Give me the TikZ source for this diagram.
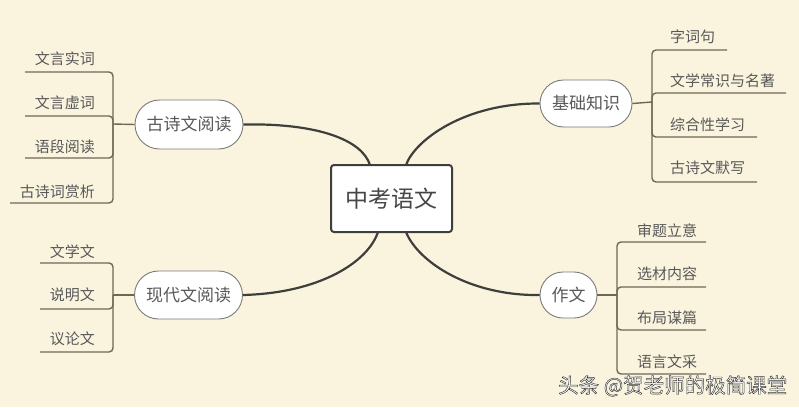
\documentclass[tikz,border=0pt]{standalone}
\usepackage{fontspec}
\setmainfont{Noto Sans CJK SC}
\usetikzlibrary{shapes.misc}
\definecolor{bg}{HTML}{FAF4DF}
\definecolor{mainline}{HTML}{3E3E3B}
\definecolor{subline}{HTML}{6E6755}
\definecolor{txt}{HTML}{585858}
\definecolor{pillborder}{HTML}{7A7A7A}
\newcommand{\outlinedtext}[1]{\special{pdf:literal 2 Tr 0.45 w 0.2 G}#1\special{pdf:literal 0 Tr}}
\tikzset{
  mainbox/.style={draw=mainline, line width=2pt, fill=white, rounded corners=3pt,
    minimum width=121pt, minimum height=67pt, inner sep=0pt, text=txt!80!black,
    font=\fontsize{23pt}{26pt}\selectfont},
  pill/.style={rounded rectangle, draw=pillborder, line width=0.9pt, fill=white,
    inner sep=0pt, text=txt, font=\fontsize{17pt}{20pt}\selectfont},
  leaf/.style={text=txt, inner sep=0pt, font=\fontsize{15pt}{18pt}\selectfont},
  mainconn/.style={draw=mainline, line width=2.2pt},
  subconn/.style={draw=subline, line width=1.4pt, rounded corners=4pt},
  wm/.style={inner sep=0pt, anchor=west, text=white, font=\fontsize{20.5pt}{22pt}\selectfont}
}
\begin{document}
\begin{tikzpicture}[x=1pt,y=-1pt]
\fill[bg] (0,0) rectangle (799,407);
\useasboundingbox (0,0) rectangle (799,407);

% central node
\node[mainbox] (A) at (391.5,198.5) {中考语文};

% branch nodes
\node[pill, minimum width=108pt, minimum height=49pt] (gu) at (189,124.5) {古诗文阅读};
\node[pill, minimum width=92pt, minimum height=47pt] (jc) at (586,103.5) {基础知识};
\node[pill, minimum width=108pt, minimum height=48pt] (xd) at (188.5,295) {现代文阅读};
\node[pill, minimum width=57pt, minimum height=46pt] (zw) at (568.5,295) {作文};

% anchor points on the central box
\coordinate (a1) at (370,165);
\coordinate (a2) at (406,165);
\coordinate (a3) at (378,232);
\coordinate (a4) at (406,232);

% main curved connectors
\draw[mainconn] (gu.east) .. controls (318,123) and (362,140) .. (a1);
\draw[mainconn] (a2) .. controls (415,140) and (465,103) .. (jc.west);
\draw[mainconn] (a3) .. controls (368,262) and (320,293) .. (xd.east);
\draw[mainconn] (a4) .. controls (418,262) and (470,296) .. (zw.west);

% ---- 古诗文阅读 children
\coordinate (jg) at (113,124);
\coordinate (g1) at (25,72);
\coordinate (g2) at (25,116);
\coordinate (g3) at (25,158);
\coordinate (g4) at (10,203);
\draw[subconn] (gu.west) -- (jg);
\draw[subconn] (jg) |- (g1);
\draw[subconn] (jg) |- (g2);
\draw[subconn] (jg) |- (g3);
\draw[subconn] (jg) |- (g4);
\node[leaf, anchor=east] (t1) at (95,59) {文言实词};
\node[leaf, anchor=east] (t2) at (95,103) {文言虚词};
\node[leaf, anchor=east] (t3) at (95,147) {语段阅读};
\node[leaf, anchor=east] (t4) at (95,192) {古诗词赏析};

% ---- 基础知识 children
\coordinate (jj) at (652,102);
\coordinate (j1) at (727,50);
\coordinate (j2) at (786,93);
\coordinate (j3) at (757,137);
\coordinate (j4) at (757,182);
\draw[subconn] (jc.east) -- (jj);
\draw[subconn] (jj) |- (j1);
\draw[subconn] (jj) |- (j2);
\draw[subconn] (jj) |- (j3);
\draw[subconn] (jj) |- (j4);
\node[leaf, anchor=west] (s1) at (670,37) {字词句};
\node[leaf, anchor=west] (s2) at (670,81) {文学常识与名著};
\node[leaf, anchor=west] (s3) at (670,125) {综合性学习};
\node[leaf, anchor=west] (s4) at (670,168) {古诗文默写};

% ---- 现代文阅读 children
\coordinate (jx) at (113,295);
\coordinate (x1) at (40,263);
\coordinate (x2) at (40,309);
\coordinate (x3) at (40,352);
\draw[subconn] (xd.west) -- (jx);
\draw[subconn] (jx) |- (x1);
\draw[subconn] (jx) |- (x2);
\draw[subconn] (jx) |- (x3);
\node[leaf, anchor=east] (m1) at (95,252) {文学文};
\node[leaf, anchor=east] (m2) at (95,295) {说明文};
\node[leaf, anchor=east] (m3) at (95,339) {议论文};

% ---- 作文 children
\coordinate (jz) at (617,295);
\coordinate (z1) at (706,242);
\coordinate (z2) at (706,287);
\coordinate (z3) at (706,330);
\coordinate (z4) at (706,374);
\draw[subconn] (zw.east) -- (jz);
\draw[subconn] (jz) |- (z1);
\draw[subconn] (jz) |- (z2);
\draw[subconn] (jz) |- (z3);
\draw[subconn] (jz) |- (z4);
\node[leaf, anchor=west] (w1) at (637,231) {审题立意};
\node[leaf, anchor=west] (w2) at (637,274) {选材内容};
\node[leaf, anchor=west] (w3) at (637,318) {布局谋篇};
\node[leaf, anchor=west] (w4) at (637,362) {语言文采};

% watermark (white text with dark outline)
\node[wm] (wmt) at (558,386) {\outlinedtext{头条 @贺老师的极简课堂}};
\end{tikzpicture}
\end{document}
